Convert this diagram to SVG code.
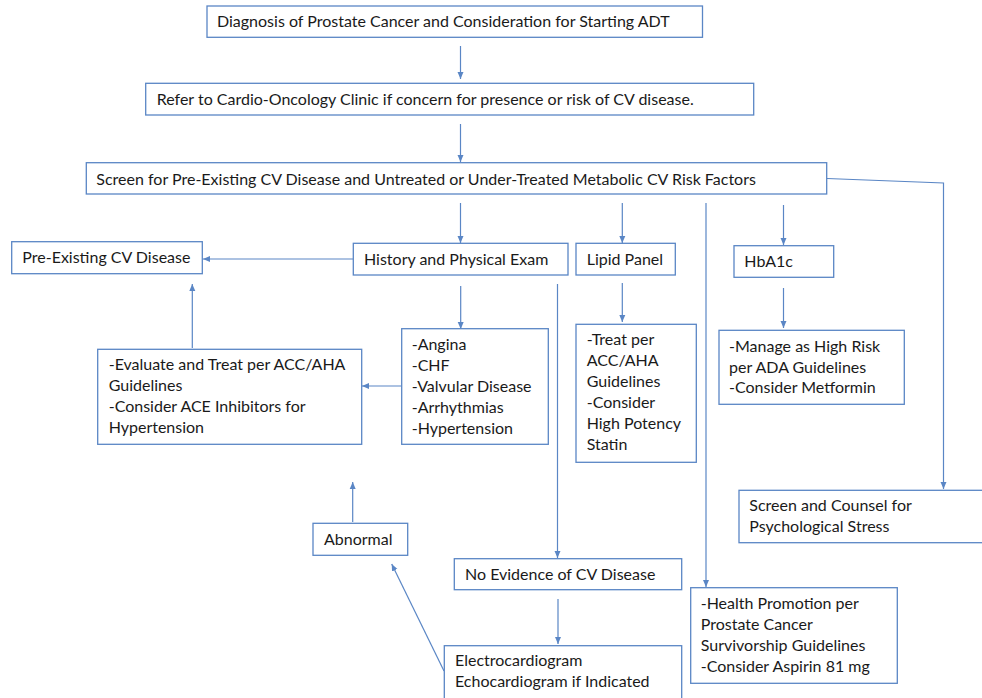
<svg xmlns="http://www.w3.org/2000/svg" width="982" height="698" viewBox="0 0 982 698">
<style>
.box{fill:#ffffff;stroke:#5a86c5;stroke-width:1.3}
.t{font-family:Lato,"Liberation Sans",sans-serif;font-size:16px;fill:#1a1a1a}
.c{fill:none;stroke:#5a86c5;stroke-width:1.2}
</style>
<defs>
<marker id="ah" markerUnits="userSpaceOnUse" markerWidth="8" markerHeight="8" viewBox="0 0 8 8" refX="7" refY="4" orient="auto">
<path d="M0,1 L7,4 L0,7 Z" fill="#5a86c5"/>
</marker>
</defs>
<rect width="982" height="698" fill="#ffffff"/>
<g id="connectors">
<line class="c" x1="460.5" y1="46" x2="460.5" y2="79" marker-end="url(#ah)"/>
<line class="c" x1="460.5" y1="124" x2="460.5" y2="162" marker-end="url(#ah)"/>
<line class="c" x1="460.5" y1="203" x2="460.5" y2="243" marker-end="url(#ah)"/>
<line class="c" x1="622.3" y1="203" x2="622.3" y2="243" marker-end="url(#ah)"/>
<line class="c" x1="783.5" y1="205" x2="783.5" y2="245" marker-end="url(#ah)"/>
<line class="c" x1="706" y1="203" x2="706" y2="587" marker-end="url(#ah)"/>
<polyline class="c" points="827,178.5 943.5,183 943.5,489" marker-end="url(#ah)"/>
<line class="c" x1="353" y1="259" x2="203" y2="259" marker-end="url(#ah)"/>
<line class="c" x1="460.7" y1="286" x2="460.7" y2="329" marker-end="url(#ah)"/>
<line class="c" x1="401.7" y1="386" x2="362" y2="386" marker-end="url(#ah)"/>
<line class="c" x1="192.3" y1="348" x2="192.3" y2="284" marker-end="url(#ah)"/>
<line class="c" x1="557.5" y1="284" x2="557.5" y2="558" marker-end="url(#ah)"/>
<line class="c" x1="622.3" y1="283" x2="622.3" y2="322" marker-end="url(#ah)"/>
<line class="c" x1="783.5" y1="288" x2="783.5" y2="328" marker-end="url(#ah)"/>
<line class="c" x1="352.7" y1="522" x2="352.7" y2="482" marker-end="url(#ah)"/>
<line class="c" x1="558" y1="599" x2="558" y2="644" marker-end="url(#ah)"/>
<line class="c" x1="444" y1="671" x2="391.7" y2="564" marker-end="url(#ah)"/>
</g>
<g id="n1"><rect class="box" x="207" y="6" width="495.5" height="31.3"/><text class="t" x="217" y="27.3">Diagnosis of Prostate Cancer and Consideration for Starting ADT</text></g>
<g id="n2"><rect class="box" x="145.7" y="83.3" width="608" height="31.7"/><text class="t" x="156.7" y="105">Refer to Cardio-Oncology Clinic if concern for presence or risk of CV disease.</text></g>
<g id="n3"><rect class="box" x="86.3" y="162.7" width="740.4" height="31.3"/><text class="t" x="96.3" y="185">Screen for Pre-Existing CV Disease and Untreated or Under-Treated Metabolic CV Risk Factors</text></g>
<g id="n4"><rect class="box" x="11.7" y="241.7" width="190.6" height="32"/><text class="t" x="22.3" y="263.3">Pre-Existing CV Disease</text></g>
<g id="n5"><rect class="box" x="353.3" y="243.3" width="214.7" height="31.7"/><text class="t" x="364" y="265">History and Physical Exam</text></g>
<g id="n6"><rect class="box" x="576" y="243.3" width="99.3" height="31.7"/><text class="t" x="586.7" y="265">Lipid Panel</text></g>
<g id="n7"><rect class="box" x="734" y="245.7" width="99.7" height="31.6"/><text class="t" x="744.3" y="266.7">HbA1c</text></g>
<g id="n8"><rect class="box" x="97.7" y="349.3" width="264" height="95"/><text class="t" x="108.7" y="370">-Evaluate and Treat per ACC/AHA</text><text class="t" x="108.7" y="391">Guidelines</text><text class="t" x="108.7" y="412.3">-Consider ACE Inhibitors for</text><text class="t" x="108.7" y="433.3">Hypertension</text></g>
<g id="n9"><rect class="box" x="401.7" y="328.7" width="146.6" height="115.6"/><text class="t" x="411.7" y="350">-Angina</text><text class="t" x="411.7" y="371">-CHF</text><text class="t" x="411.7" y="392">-Valvular Disease</text><text class="t" x="411.7" y="413">-Arrhythmias</text><text class="t" x="411.7" y="434">-Hypertension</text></g>
<g id="n10"><rect class="box" x="576" y="324.3" width="120.3" height="138"/><text class="t" x="586.7" y="345">-Treat per</text><text class="t" x="586.7" y="366">ACC/AHA</text><text class="t" x="586.7" y="387">Guidelines</text><text class="t" x="586.7" y="408">-Consider</text><text class="t" x="586.7" y="429">High Potency</text><text class="t" x="586.7" y="450">Statin</text></g>
<g id="n11"><rect class="box" x="719" y="330.3" width="185.3" height="74"/><text class="t" x="729" y="351.7">-Manage as High Risk</text><text class="t" x="729" y="372.7">per ADA Guidelines</text><text class="t" x="729" y="393.3">-Consider Metformin</text></g>
<g id="n12"><rect class="box" x="739" y="490.3" width="260" height="52.4"/><text class="t" x="749.3" y="511">Screen and Counsel for</text><text class="t" x="749.3" y="531.7">Psychological Stress</text></g>
<g id="n13"><rect class="box" x="313" y="523.3" width="94.7" height="32"/><text class="t" x="324" y="545">Abnormal</text></g>
<g id="n14"><rect class="box" x="454.3" y="558.7" width="227.4" height="31"/><text class="t" x="465" y="580">No Evidence of CV Disease</text></g>
<g id="n15"><rect class="box" x="444.3" y="645.7" width="237.4" height="62"/><text class="t" x="455" y="666">Electrocardiogram</text><text class="t" x="455" y="686.7">Echocardiogram if Indicated</text></g>
<g id="n16"><rect class="box" x="690.7" y="587.7" width="206.6" height="95.6"/><text class="t" x="700.7" y="609.3">-Health Promotion per</text><text class="t" x="700.7" y="630.3">Prostate Cancer</text><text class="t" x="700.7" y="651.3">Survivorship Guidelines</text><text class="t" x="700.7" y="671.7">-Consider Aspirin 81 mg</text></g>
</svg>
